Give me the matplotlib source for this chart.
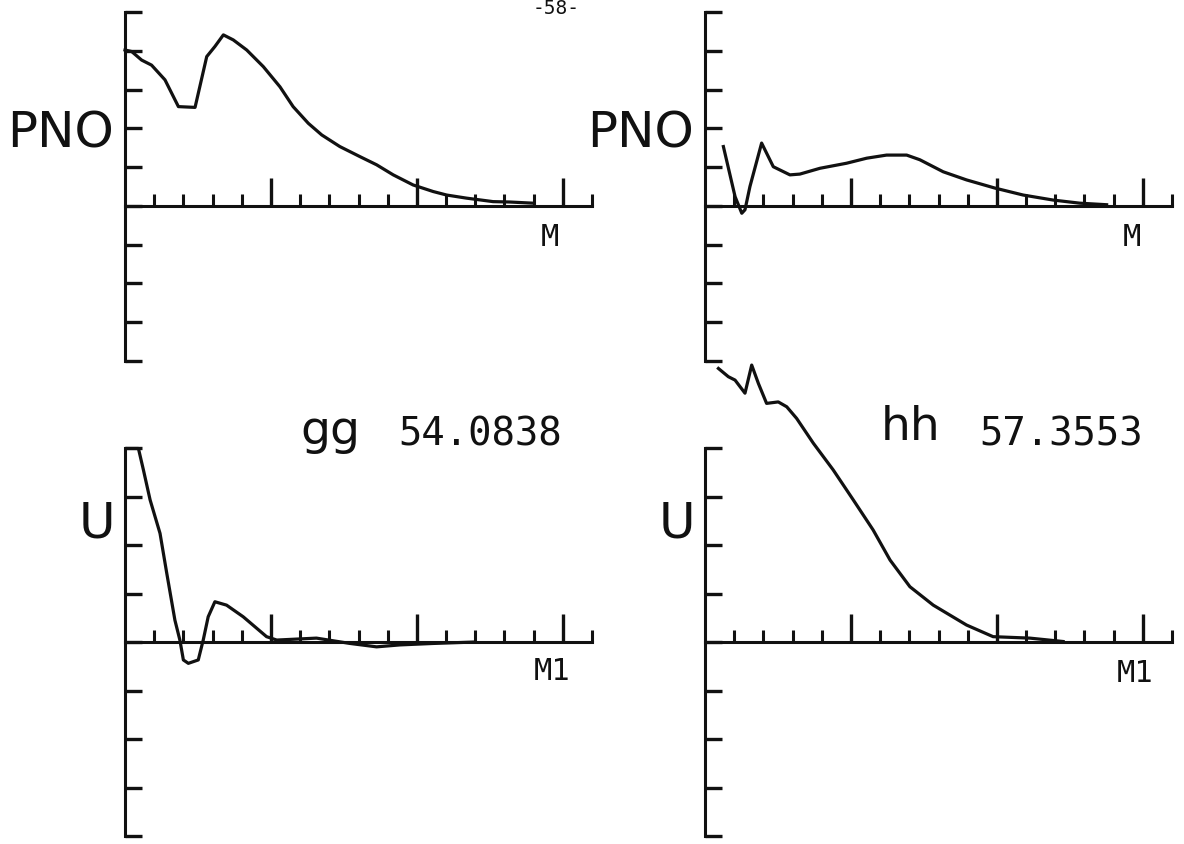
"""Recreate the scanned PNO / U profile sheet (page -58-)."""

import matplotlib
matplotlib.use("Agg")

import matplotlib.pyplot as plt

# Data (x and y in tick units)
pno_gg_x = [0.0, 0.23, 0.57, 0.91, 1.37, 1.83, 2.40, 2.80, 3.08, 3.37, 3.71, 4.17,
            4.74, 5.31, 5.76, 6.28, 6.74, 7.36, 8.05, 8.62, 9.19, 9.87, 10.56,
            11.02, 11.70, 12.61, 13.18, 13.98]
pno_gg_y = [4.02, 3.98, 3.76, 3.63, 3.25, 2.56, 2.54, 3.85, 4.11, 4.41, 4.28, 4.02,
            3.59, 3.07, 2.56, 2.13, 1.83, 1.53, 1.27, 1.06, 0.80, 0.54, 0.37,
            0.28, 0.20, 0.11, 0.10, 0.07]

pno_hh_x = [0.63, 1.03, 1.26, 1.37, 1.54, 1.94, 2.34, 2.91, 3.25, 3.94, 4.85, 5.54,
            6.22, 6.91, 7.36, 8.16, 8.96, 9.93, 10.90, 11.93, 12.84, 13.76]
pno_hh_y = [1.53, 0.24, -0.19, -0.10, 0.50, 1.62, 1.01, 0.80, 0.82, 0.97, 1.10, 1.23,
            1.31, 1.31, 1.19, 0.88, 0.67, 0.46, 0.28, 0.15, 0.07, 0.03]

u_gg_x = [0.06, 0.46, 0.63, 0.86, 1.20, 1.43, 1.71, 1.88, 2.00, 2.17, 2.51, 2.68,
          2.85, 3.08, 3.48, 4.05, 4.85, 5.20, 6.56, 7.71, 8.62, 9.42, 10.56, 12.0]
u_gg_y = [3.99, 3.99, 3.55, 2.93, 2.24, 1.42, 0.45, 0.04, -0.37, -0.44, -0.37, 0.04,
          0.52, 0.83, 0.76, 0.52, 0.11, 0.04, 0.08, -0.03, -0.10, -0.06, -0.03, 0.0]

u_hh_x = [0.46, 0.80, 1.03, 1.37, 1.60, 1.83, 2.11, 2.51, 2.80, 3.14, 3.71, 4.39,
          5.08, 5.76, 6.34, 7.02, 7.82, 8.96, 9.87, 11.13, 12.27]
u_hh_y = [5.64, 5.47, 5.40, 5.13, 5.71, 5.33, 4.92, 4.95, 4.85, 4.61, 4.10, 3.55,
          2.93, 2.31, 1.69, 1.14, 0.76, 0.35, 0.11, 0.08, 0.01]

major_ticks = [5, 10, 15]
minor_ticks = [1, 2, 3, 4, 6, 7, 8, 9, 11, 12, 13, 14, 16]

W, H = 1184, 844
INK = "#111111"


def px_axes(fig, x0, x1, y_top, y_bot):
    """Add axes given pixel edges (origin top-left)."""
    return fig.add_axes([x0 / W, 1 - y_bot / H, (x1 - x0) / W, (y_bot - y_top) / H])


def style_axes(ax, ymin, ymax):
    ax.set_xlim(0, 16)
    ax.set_ylim(ymin, ymax)
    ax.set_facecolor("none")
    for side in ("top", "right"):
        ax.spines[side].set_visible(False)
    ax.spines["bottom"].set_position(("data", 0))
    ax.spines["left"].set_position(("data", 0))
    for side in ("bottom", "left"):
        ax.spines[side].set_linewidth(2.2)
        ax.spines[side].set_color(INK)
    ax.set_xticks(major_ticks)
    ax.set_xticks(minor_ticks, minor=True)
    ax.set_yticks(range(ymin, ymax + 1))
    ax.tick_params(axis="x", which="major", direction="in", length=20, width=2.4,
                   color=INK, labelbottom=False)
    ax.tick_params(axis="x", which="minor", direction="in", length=9, width=2.2,
                   color=INK, labelbottom=False)
    ax.tick_params(axis="y", which="major", direction="in", length=12, width=2.4,
                   color=INK, labelleft=False)


def ftext(fig, x, y, s, **kw):
    fig.text(x / W, 1 - y / H, s, ha="center", va="center", color=INK, **kw)


fig = plt.figure(figsize=(W / 100, H / 100), dpi=100, facecolor="white")

ax_tl = px_axes(fig, 125, 592, 12, 361)
ax_tr = px_axes(fig, 705, 1172, 12, 361)
ax_bl = px_axes(fig, 125, 592, 448, 836)
ax_br = px_axes(fig, 705, 1172, 448, 836)

style_axes(ax_tl, -4, 5)
style_axes(ax_tr, -4, 5)
style_axes(ax_bl, -4, 4)
style_axes(ax_br, -4, 4)

ax_tl.plot(pno_gg_x, pno_gg_y, color=INK, lw=2.3, clip_on=False)
ax_tr.plot(pno_hh_x, pno_hh_y, color=INK, lw=2.3, clip_on=False)
ax_bl.plot(u_gg_x, u_gg_y, color=INK, lw=2.3, clip_on=False)
ax_br.plot(u_hh_x, u_hh_y, color=INK, lw=2.3, clip_on=False)

# Axis names
sans = dict(family="DejaVu Sans", fontsize=36)
mono = dict(family="DejaVu Sans Mono", fontsize=22)
ftext(fig, 60, 133, "PNO", **sans)
ftext(fig, 641, 133, "PNO", **sans)
ftext(fig, 97, 524, "U", **sans)
ftext(fig, 677, 524, "U", **sans)
ftext(fig, 550, 238, "M", **mono)
ftext(fig, 1132, 238, "M", **mono)
ftext(fig, 552, 672, "M1", **mono)
ftext(fig, 1135, 674, "M1", **mono)

# Panel captions
ftext(fig, 330, 432, "gg", family="DejaVu Sans", fontsize=34)
ftext(fig, 480, 435, "54.0838", family="DejaVu Sans Mono", fontsize=28)
ftext(fig, 911, 427, "hh", family="DejaVu Sans", fontsize=34)
ftext(fig, 1061, 435, "57.3553", family="DejaVu Sans Mono", fontsize=28)

# Page number at the top edge
ftext(fig, 556, 8, "-58-", family="DejaVu Sans Mono", fontsize=14)

fig.savefig("out.png", dpi=100, facecolor="white")
plt.close(fig)
